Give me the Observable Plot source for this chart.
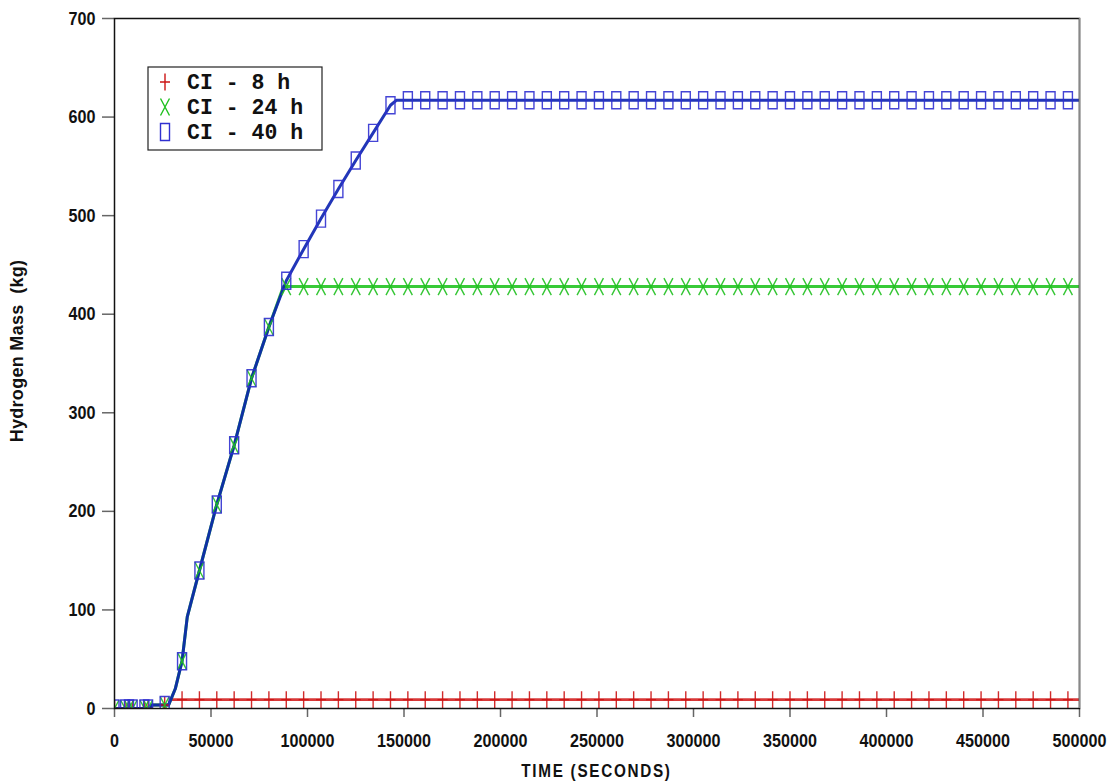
<!DOCTYPE html>
<html><head><meta charset="utf-8">
<script src="https://cdn.jsdelivr.net/npm/d3@7"></script>
<script src="https://cdn.jsdelivr.net/npm/@observablehq/plot@0.6"></script>
<style>
body{margin:0;background:#fff;}
#chart{width:1116px;height:783px;}
</style></head><body><div id="chart"></div>
<script>
// ---- data ----
const seriesNames = ["CI - 8 h", "CI - 24 h", "CI - 40 h"];
const seriesColors = ["#cc1414", "#1fc01f", "#3030d0"];
const lineColors = ["#d42222", "#22c422", "#0a20b0"];

const xTicks = [0, 50000, 100000, 150000, 200000, 250000, 300000, 350000, 400000, 450000, 500000];
const yTicks = [0, 100, 200, 300, 400, 500, 600, 700];

// line vertices
const redLineT = [0, 19000, 19300, 28000, 29000, 500000];
const redLineV = [0, 0, 3.5, 3.5, 9, 9];
const greenLineT = [0, 19000, 19300, 28000, 31500, 35000, 37700, 44000, 53000, 62000, 71000, 80000, 87500, 500000];
const greenLineV = [0, 0, 3.5, 3.5, 20, 48, 93, 140, 207, 267, 335, 387, 428, 428];
const blueLineT = [0, 19000, 19300, 28000, 31500, 35000, 37700, 44000, 53000, 62000, 71000, 80000, 89000, 98000, 107000, 116000, 125000, 134000, 143000, 146000, 500000];
const blueLineV = [0, 0, 3.5, 3.5, 20, 48, 93, 140, 207, 267, 335, 387, 434, 466, 497, 527, 556, 584, 612, 617, 617];

// marker positions (seconds) and marker values of each series
const markerT = [0, 5500, 7500, 9400, 15500, 17400, 26000,
  35000, 44000, 53000, 62000, 71000, 80000, 89000, 98000, 107000, 116000, 125000, 134000, 143000,
  152000, 161000, 170000, 179000, 188000, 197000, 206000, 215000, 224000, 233000, 242000, 251000, 260000,
  269000, 278000, 287000, 296000, 305000, 314000, 323000, 332000, 341000, 350000, 359000, 368000, 377000,
  386000, 395000, 404000, 413000, 422000, 431000, 440000, 449000, 458000, 467000, 476000, 485000, 494000];
const redMarkV = [0, 0, 0, 0, 0, 0, 3.5,
  9, 9, 9, 9, 9, 9, 9, 9, 9, 9, 9, 9, 9,
  9, 9, 9, 9, 9, 9, 9, 9, 9, 9, 9, 9, 9,
  9, 9, 9, 9, 9, 9, 9, 9, 9, 9, 9, 9, 9,
  9, 9, 9, 9, 9, 9, 9, 9, 9, 9, 9, 9, 9];
const greenMarkV = [0, 0, 0, 0, 0, 0, 3.5,
  48, 140, 207, 267, 335, 387, 428, 428, 428, 428, 428, 428, 428,
  428, 428, 428, 428, 428, 428, 428, 428, 428, 428, 428, 428, 428,
  428, 428, 428, 428, 428, 428, 428, 428, 428, 428, 428, 428, 428,
  428, 428, 428, 428, 428, 428, 428, 428, 428, 428, 428, 428, 428];
const blueMarkV = [0, 0, 0, 0, 0, 0, 3.5,
  48, 140, 207, 267, 335, 387, 434, 466, 497, 527, 556, 584, 612,
  617, 617, 617, 617, 617, 617, 617, 617, 617, 617, 617, 617, 617,
  617, 617, 617, 617, 617, 617, 617, 617, 617, 617, 617, 617, 617,
  617, 617, 617, 617, 617, 617, 617, 617, 617, 617, 617, 617, 617];

// ---- symbols (tall, as in the original) ----
const plusSym = {draw(c){ c.moveTo(0,-8.5); c.lineTo(0,8.5); c.moveTo(-5,0); c.lineTo(5,0); }};
const timesSym = {draw(c){ c.moveTo(-4.5,-8.5); c.lineTo(4.5,8.5); c.moveTo(4.5,-8.5); c.lineTo(-4.5,8.5); }};
const rectSym = {draw(c){ c.moveTo(-4.5,-8.5); c.lineTo(4.5,-8.5); c.lineTo(4.5,8.5); c.lineTo(-4.5,8.5); c.closePath(); }};
const symbols = [plusSym, timesSym, rectSym];

const toRows = (T, V) => T.map((t, i) => ({t, v: V[i]}));
const lines = [toRows(redLineT, redLineV), toRows(greenLineT, greenLineV), toRows(blueLineT, blueLineV)];
const marks = [toRows(markerT, redMarkV), toRows(markerT, greenMarkV), toRows(markerT, blueMarkV)];

const sansFont = "'Liberation Sans', Arial, sans-serif";

const plot = Plot.plot({
  width: 1116, height: 783,
  marginLeft: 114, marginRight: 37, marginTop: 18, marginBottom: 75,
  x: {domain: [0, 500000]},
  y: {domain: [0, 700]},
  style: {background: "#fff", fontFamily: sansFont, overflow: "visible"},
  marks: [
    Plot.axisX({ticks: xTicks, tickSize: 9, tickPadding: 16, tickFormat: d => String(d), label: null,
      stroke: "#666", fill: "#111", fontSize: 19, fontWeight: "bold", strokeWidth: 1.5}),
    Plot.axisY({ticks: yTicks, tickSize: 12, tickPadding: 7, tickFormat: d => String(d), label: null,
      stroke: "#666", fill: "#111", fontSize: 19, fontWeight: "bold", strokeWidth: 1.5}),
    ...lines.map((d, i) => Plot.line(d, {x: "t", y: "v", stroke: lineColors[i], strokeWidth: i === 0 ? 2.6 : 3, strokeOpacity: 0.9, clip: true})),
    ...marks.map((d, i) => Plot.dot(d, {x: "t", y: "v", symbol: symbols[i], fill: "none", stroke: seriesColors[i], strokeWidth: 1.4, strokeOpacity: 0.9, clip: true})),
    Plot.frame({stroke: "#111", strokeWidth: 1.5}),
    Plot.ruleX([500000], {stroke: "#888", strokeWidth: 1.5})
  ]
});
document.getElementById("chart").appendChild(plot);

const svg = d3.select(plot);
// narrow the tick labels (the original uses a condensed face)
svg.selectAll("g[aria-label='x-axis tick label'] text, g[aria-label='y-axis tick label'] text")
  .each(function() {
    const t = this.getAttribute("transform") || "";
    this.setAttribute("transform", t + " scale(0.85,1)");
  });

// ---- titles and legend ----
const ml = 114, W = 1116, mr = 37;
svg.append("text")
  .attr("transform", `translate(${(ml + W - mr) / 2},777) scale(0.85,1)`)
  .attr("text-anchor", "middle")
  .style("font-family", sansFont)
  .style("font-weight", "bold").style("font-size", "18px").style("letter-spacing", "2px")
  .attr("fill", "#111")
  .text("TIME (SECONDS)");
svg.append("text")
  .attr("transform", `translate(23,351) rotate(-90)`)
  .attr("text-anchor", "middle")
  .style("font-family", sansFont)
  .style("font-weight", "bold").style("font-size", "18px").style("letter-spacing", "0.3px")
  .attr("fill", "#111")
  .text("Hydrogen Mass\u00a0\u00a0(kg)");

const lg = svg.append("g").attr("transform", "translate(148,67)");
lg.append("rect").attr("width", 174).attr("height", 83).attr("fill", "#fff").attr("stroke", "#222").attr("stroke-width", 1.2);
seriesNames.forEach((name, i) => {
  const cy = 15 + i * 25;
  lg.append("path").attr("d", d3.symbol(symbols[i])()).attr("transform", `translate(17,${cy})`)
    .attr("fill", "none").attr("stroke", seriesColors[i]).attr("stroke-width", 1.4);
  lg.append("text").attr("x", 39).attr("y", cy + 7)
    .attr("text-anchor", "start")
    .style("font-family", "'Liberation Mono', 'DejaVu Sans Mono', monospace")
    .style("font-weight", "bold").style("font-size", "21.5px")
    .style("white-space", "pre")
    .attr("fill", "#111")
    .text(name);
});
</script></body></html>
